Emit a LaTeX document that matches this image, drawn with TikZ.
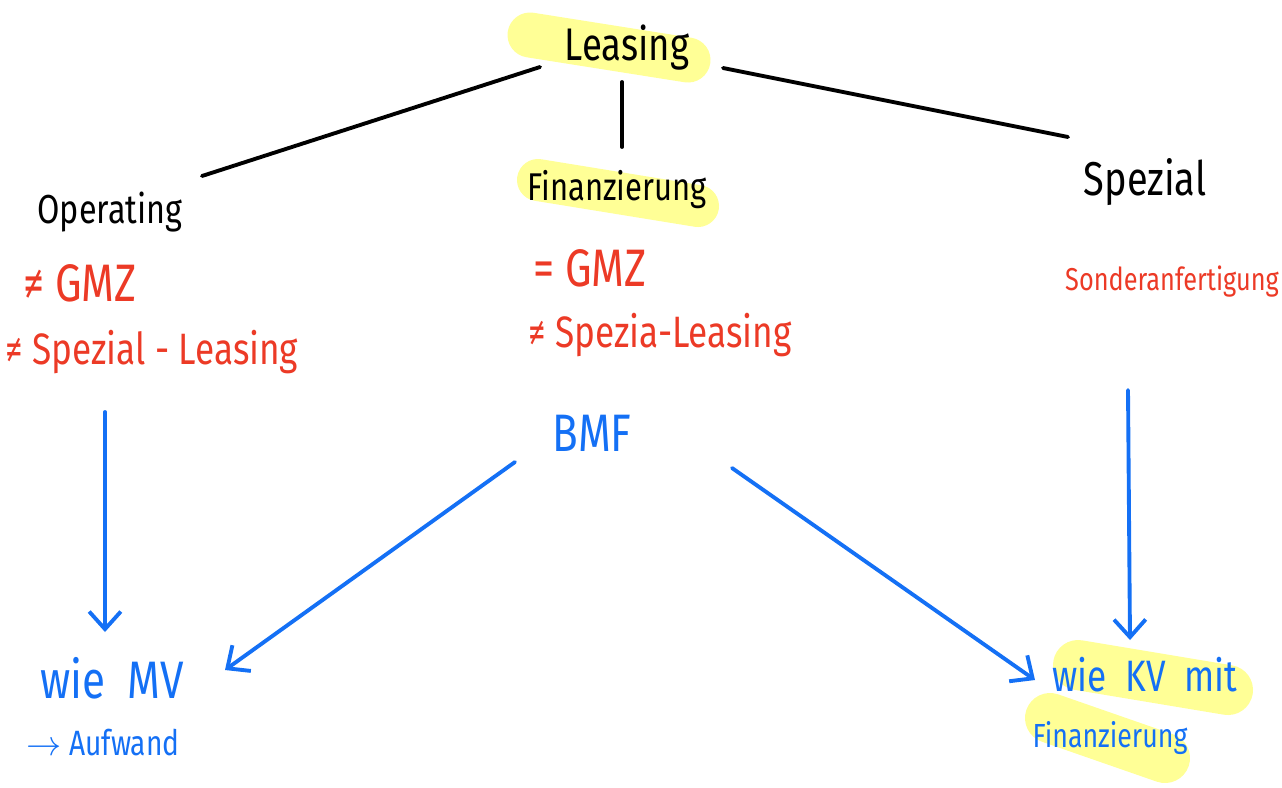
\documentclass[tikz,border=0pt]{standalone}
\usepackage{fontspec}
\setmainfont[FakeStretch=0.8]{Fira Sans}
\usetikzlibrary{arrows.meta}
\definecolor{penred}{RGB}{236,58,38}
\definecolor{penblue}{RGB}{20,112,245}
\definecolor{marker}{RGB}{255,255,150}
\tikzset{
  ink/.style={inner sep=1pt,font=\fontsize{#1}{#1}\selectfont},
  ink/.default=15,
  redink/.style={ink=#1,text=penred},
  redink/.default=15,
  blueink/.style={ink=#1,text=penblue},
  blueink/.default=15,
  stroke/.style={line width=1.1pt,line cap=round},
  arr/.style={stroke,penblue,-{Straight Barb[length=5pt,width=9pt]}},
  hl/.style={marker,line cap=round,line width=#1},
}
\begin{document}
\begin{tikzpicture}[x=0.01cm,y=-0.01cm]
\useasboundingbox (0,0) rectangle (1282,787);
% marker strokes
\draw[hl=0.45cm] (530,35) -- (688,60);
\draw[hl=0.42cm] (538,180) -- (698,206);
\draw[hl=0.5cm] (1078,665) -- (1228,690);
\draw[hl=0.5cm] (1050,718) -- (1165,758);

% top level
\node[ink=13] (lea) at (627,48) {Leasing};
\node[ink=11.5] (op) at (110,212) {Operating};
\node[ink=11] (fin) at (617,190) {Finanzierung};
\node[ink=13.5] (spz) at (1145,182) {Spezial};
\draw[stroke] ([shift={(-87,19)}]lea.center) -- ([shift={(92,-36)}]op.center);
\draw[stroke] ([shift={(-5,34)}]lea.center) -- ([shift={(5,-43)}]fin.center);
\draw[stroke] ([shift={(96,20)}]lea.center) -- ([shift={(-77,-45)}]spz.center);

% red notes
\node[redink] (opgmz) at (80,283) {≠ GMZ};
\node[redink=12.5] (opspez) at (152,352) {≠ Spezial - Leasing};
\node[redink] (fingmz) at (590,268) {= GMZ};
\node[redink=12.5] (finspez) at (660,335) {≠ Spezia-Leasing};
\node[redink=9] (sonder) at (1172,282) {Sonderanfertigung};

% blue part
\node[blueink] (bmf) at (592,433) {BMF};
\node[blueink] (opmv) at (112,678) {wie \ MV};
\node[blueink=10] (aufw) at (103,743) {$\rightarrow$ Aufwand};
\node[blueink=12.5] (kv) at (1145,675) {wie \ KV \ mit};
\node[blueink=9.5] (kvfin) at (1110,738) {Finanzierung};

\draw[arr] ([shift={(-47,60)}]opspez.center) -- ([shift={(-7,-46)}]opmv.center);
\draw[arr] ([shift={(-77,29)}]bmf.center) -- ([shift={(113,-8)}]opmv.center);
\draw[arr] ([shift={(140,35)}]bmf.center) -- ([shift={(-110,5)}]kv.center);
\draw[arr] ([shift={(-44,108)}]sonder.center) -- ([shift={(-15,-35)}]kv.center);
\end{tikzpicture}
\end{document}
